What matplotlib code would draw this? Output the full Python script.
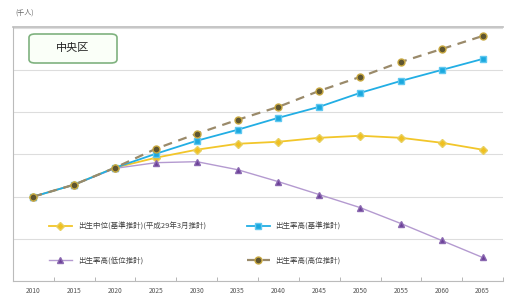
import numpy as np
import matplotlib
matplotlib.use('Agg')
from matplotlib import pyplot as plt
from matplotlib.patches import FancyBboxPatch

plt.rcParams['font.family'] = ['Noto Sans CJK JP', 'DejaVu Sans']

#Data (千人)
years = ['2010', '2015', '2020', '2025', '2030', '2035', '2040', '2045', '2050', '2055', '2060', '2065']
mid = [100, 114.2, 134.3, 146.1, 155.6, 162.6, 165.0, 169.7, 172.1, 169.7, 163.8, 155.6]
base = [100, 114.2, 134.3, 150.8, 166.2, 179.2, 193.4, 206.4, 222.9, 237.1, 250.1, 263.1]
low = [100, 114.2, 133.5, 140.2, 141.4, 131.9, 117.7, 102.4, 87.0, 68.1, 48.0, 27.9]
high = [100, 114.2, 134.3, 156.7, 174.5, 191.0, 206.4, 225.3, 241.8, 259.6, 274.9, 290.3]
labels = ['出生中位(基準推計)(平成29年3月推計)', '出生率高(基準推計)',
          '出生率高(低位推計)', '出生率高(高位推計)']
yticks = [0, 50, 100, 150, 200, 250, 300]

fig = plt.figure(figsize=(5.05, 2.98), dpi=100)
ax = fig.add_axes([13/505, 1-281/298, 490/505, 254/298])
x = np.arange(len(years))

l1, = ax.plot(x, mid, color='#F2C62A', lw=1.3, marker='D', ms=4.2,
              mfc='#F0C020', mec='#E8D060', zorder=3)
l2, = ax.plot(x, base, color='#22AEE4', lw=1.3, marker='s', ms=4.2,
              mfc='#1BA8DE', mec='#60C8F0', zorder=4)
l3, = ax.plot(x, low, color='#B49AD0', lw=1.0, marker='^', ms=5,
              mfc='#6B3F98', mec='#8A68B0', zorder=3)
l4, = ax.plot(x, high, color='#9A8A6A', lw=1.6, ls=(0, (4, 3)), marker='o', ms=5,
              mfc='#5E5530', mec='#C8A840', zorder=5)

ax.set_xlim(-0.5, 11.5)
ax.set_ylim(0, 301)
ax.set_yticks(yticks)
ax.set_yticklabels([str(v) for v in yticks], fontsize=5, color='#444444')
ax.tick_params(axis='y', length=0, pad=10)
ax.set_xticks(x)
ax.set_xticklabels(years, fontsize=4.8, color='#555555')
ax.set_xticks(np.arange(-0.5, 12, 1), minor=True)
ax.tick_params(axis='x', which='major', length=0, pad=4)
ax.tick_params(axis='x', which='minor', length=3, color='#AAAAAA', direction='in')
ax.grid(axis='y', color='#DDDDDD', lw=0.8)
ax.set_axisbelow(True)
ax.spines['right'].set_visible(False)
ax.spines['top'].set_color('#BBBBBB')
ax.spines['top'].set_linewidth(1.2)
ax.spines['left'].set_color('#BBBBBB')
ax.spines['bottom'].set_color('#BBBBBB')

fig.text(15/505, 1-13/298, '(千人)', fontsize=5, color='#666666', va='center')

#Title box
box = FancyBboxPatch((29/505, 1-63/298), 88/505, 29/298,
                     boxstyle='round,pad=0,rounding_size=0.012',
                     transform=fig.transFigure, facecolor='#FAFFF8',
                     edgecolor='#7FB27F', lw=1.2)
fig.patches.append(box)
fig.text(73/505, 1-48/298, '中央区', fontsize=8, ha='center', va='center', color='#222222')

#order so that rows read mid/base, low/high
leg = ax.legend([l1, l3, l2, l4], [labels[0], labels[2], labels[1], labels[3]],
                ncol=2, loc='upper left',
                bbox_to_anchor=(0.06, 0.255), frameon=False, fontsize=5.4,
                handlelength=3, columnspacing=5.5, labelspacing=3.4,
                labelcolor='#444444')

fig.savefig('out.png', dpi=100)
